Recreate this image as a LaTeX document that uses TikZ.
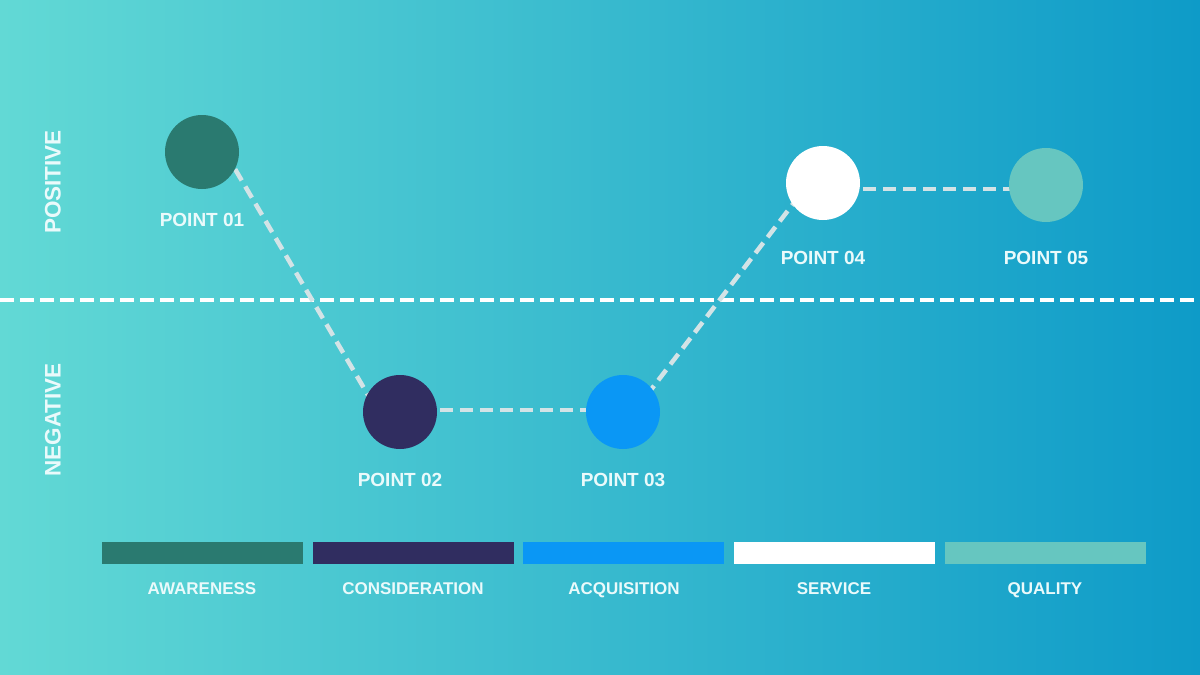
\documentclass[tikz,border=0pt]{standalone}
\usepackage{fontspec}
\setmainfont{Liberation Sans}
\begin{document}
\begin{tikzpicture}[x=1pt,y=-1pt,
  pt/.style={circle,minimum size=74pt,inner sep=0pt},
  lbl/.style={text=labelc,font=\bfseries\fontsize{19}{19}\selectfont,anchor=base},
  barlbl/.style={text=labelc,font=\bfseries\fontsize{17}{17}\selectfont,anchor=base},
  side/.style={text=labelc,font=\bfseries\fontsize{22.5}{22.5}\selectfont,rotate=90,anchor=center},
  conn/.style={draw=connc,line width=4.5pt,dash pattern=on 13pt off 7pt},
  bar/.style={minimum width=201pt,minimum height=22pt,inner sep=0pt}]
\definecolor{bgl}{HTML}{62D9D5}
\definecolor{bgr}{HTML}{0E9BC8}
\definecolor{labelc}{HTML}{EAFAFB}
\definecolor{connc}{HTML}{D3E3E6}
\definecolor{c1}{HTML}{2A7A70}
\definecolor{c2}{HTML}{302D60}
\definecolor{c3}{HTML}{0A97F5}
\definecolor{c4}{HTML}{FFFFFF}
\definecolor{c5}{HTML}{66C6C0}
\useasboundingbox (0,0) rectangle (1200,675);
\shade[left color=bgl,right color=bgr] (0,0) rectangle (1200,675);
% baseline
\coordinate (bl) at (0,300);
\coordinate (br) at (1200,300);
\draw[draw=white,line width=4pt,dash pattern=on 14pt off 6pt] (bl) -- (br);
% side labels
\node[side] (pos) at (53,182) {POSITIVE};
\node[side] (neg) at (53,420) {NEGATIVE};
% points
\node[pt] (p1) at (202,152) {};
\node[pt] (p2) at (400,412) {};
\node[pt] (p3) at (623,412) {};
\node[pt] (p4) at (823,183) {};
\node[pt] (p5) at (1046,185) {};
\coordinate (p1c) at (225,152);
\coordinate (p2a) at (378,412);
\coordinate (p2c) at (400,410);
\coordinate (p3c) at (623,410);
\coordinate (p3a) at (634,412);
\coordinate (p4a) at (809,183);
\coordinate (p4c) at (823,189);
\coordinate (p5c) at (1046,189);
\draw[conn] (p1c) -- (p2a);
\draw[conn] (p2c) -- (p3c);
\draw[conn] (p3a) -- (p4a);
\draw[conn] (p4c) -- (p5c);
\fill[c1] (p1) circle (37);
\fill[c2] (p2) circle (37);
\fill[c3] (p3) circle (37);
\fill[c4] (p4) circle (37);
\fill[c5] (p5) circle (37);
\node[lbl] (l1) at (202,226) {POINT 01};
\node[lbl] (l2) at (400,486) {POINT 02};
\node[lbl] (l3) at (623,486) {POINT 03};
\node[lbl] (l4) at (823,264) {POINT 04};
\node[lbl] (l5) at (1046,264) {POINT 05};
% bars
\node[bar,fill=c1] (b1) at (202.5,553) {};
\node[bar,fill=c2] (b2) at (413.5,553) {};
\node[bar,fill=c3] (b3) at (623.5,553) {};
\node[bar,fill=c4] (b4) at (834.5,553) {};
\node[bar,fill=c5] (b5) at (1045,553) {};
\node[barlbl] (t1) at (202,594) {AWARENESS};
\node[barlbl] (t2) at (413,594) {CONSIDERATION};
\node[barlbl] (t3) at (624,594) {ACQUISITION};
\node[barlbl] (t4) at (834,594) {SERVICE};
\node[barlbl] (t5) at (1045,594) {QUALITY};
\end{tikzpicture}
\end{document}
